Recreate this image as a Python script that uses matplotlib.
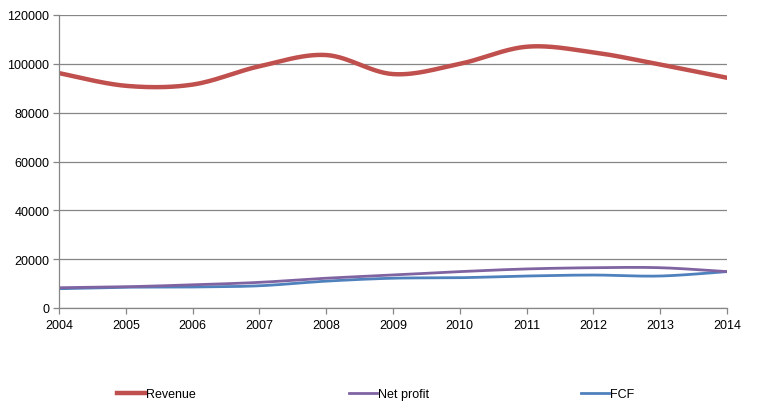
import numpy as np
import matplotlib
matplotlib.use("Agg")
import matplotlib.pyplot as plt
from matplotlib.lines import Line2D

years = [2004, 2005, 2006, 2007, 2008, 2009, 2010, 2011, 2012, 2013, 2014]
revenue = [96200, 91000, 91500, 99000, 103600, 95800, 100000, 107000, 104700, 99700, 94300]
net_profit = [8300, 8700, 9500, 10500, 12200, 13500, 14900, 16000, 16500, 16500, 14900]
fcf = [7900, 8500, 8600, 9100, 11000, 12200, 12400, 13100, 13500, 13100, 14900]
yticks = [0, 20000, 40000, 60000, 80000, 100000, 120000]

plt.rcParams['font.family'] = ['Liberation Sans', 'DejaVu Sans']


def smooth(x, y, n=30):
    # Excel-style smoothed line: cubic Bezier with Catmull-Rom control points
    x = np.asarray(x, float)
    y = np.asarray(y, float)
    px = np.concatenate([[x[0]], x, [x[-1]]])
    py = np.concatenate([[y[0]], y, [y[-1]]])
    xs, ys = [], []
    t = np.linspace(0, 1, n)
    for i in range(1, len(px) - 2):
        p0 = np.array([px[i], py[i]])
        p3 = np.array([px[i + 1], py[i + 1]])
        c1 = p0 + (np.array([px[i + 1], py[i + 1]]) - np.array([px[i - 1], py[i - 1]])) / 6
        c2 = p3 - (np.array([px[i + 2], py[i + 2]]) - np.array([px[i], py[i]])) / 6
        b = ((1 - t) ** 3)[:, None] * p0 + (3 * (1 - t) ** 2 * t)[:, None] * c1 \
            + (3 * (1 - t) * t ** 2)[:, None] * c2 + (t ** 3)[:, None] * p3
        xs.extend(b[:, 0])
        ys.extend(b[:, 1])
    return np.array(xs), np.array(ys)


fig = plt.figure(figsize=(7.58, 4.10), dpi=100)
ax = fig.add_axes([59 / 758, 1 - 309 / 410, (727 - 59) / 758, (309 - 16) / 410])

c_rev, c_np, c_fcf = '#C0504D', '#8064A2', '#4F81BD'
sx, sy = smooth(years, fcf)
ax.plot(sx, sy, color=c_fcf, lw=2.0, solid_capstyle='round')
sx, sy = smooth(years, net_profit)
ax.plot(sx, sy, color=c_np, lw=2.0, solid_capstyle='round')
sx, sy = smooth(years, revenue)
ax.plot(sx, sy, color=c_rev, lw=3.2, solid_capstyle='round')

ax.set_xlim(years[0], years[-1])
ax.set_ylim(0, 120000)
ax.set_xticks(years)
ax.set_xticklabels([str(y) for y in years])
ax.set_yticks(yticks)
ax.set_yticklabels([str(v) for v in yticks])
ax.yaxis.grid(True, color='#868686', lw=0.9)
ax.set_axisbelow(True)
for s in ['top', 'right']:
    ax.spines[s].set_visible(False)
for s in ['left', 'bottom']:
    ax.spines[s].set_color('#868686')
    ax.spines[s].set_linewidth(0.9)
ax.tick_params(axis='both', colors='#868686', labelcolor='black', labelsize=9, length=4, width=0.9)
ax.tick_params(axis='x', pad=4)
ax.tick_params(axis='y', pad=3)

entries = [('Revenue', c_rev, 3.2, 117), ('Net profit', c_np, 2.0, 349), ('FCF', c_fcf, 2.0, 581)]
for label, c, lw, xpx in entries:
    h = Line2D([0], [0], color=c, lw=lw)
    fig.legend([h], [label], loc='center left', bbox_to_anchor=(xpx / 758, 1 - 395 / 410),
               frameon=False, fontsize=9, handlelength=2.2, handletextpad=0.15,
               borderpad=0, borderaxespad=0)

fig.savefig('out.png', dpi=100)
